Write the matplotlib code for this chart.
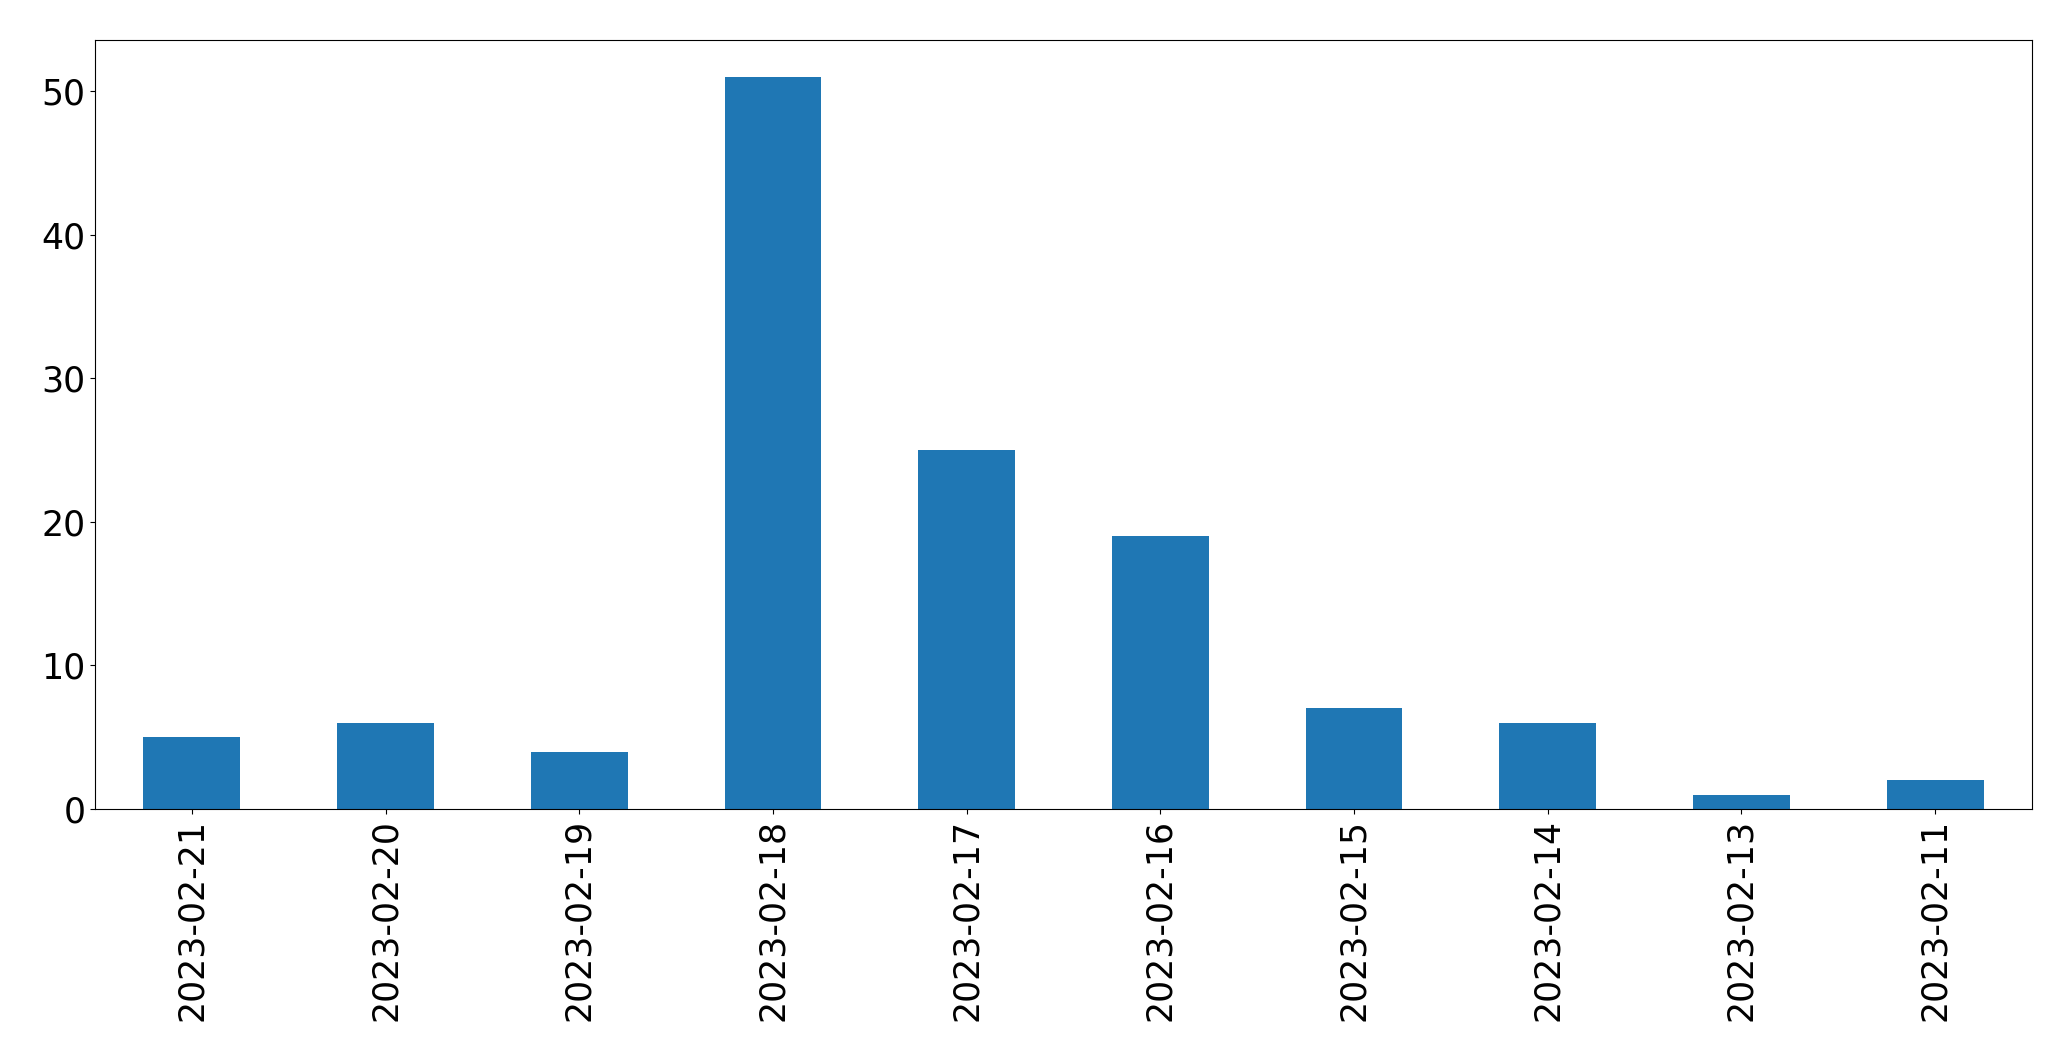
import matplotlib.pyplot as plt
import pandas as pd

# counts per day
dates = ["2023-02-21", "2023-02-20", "2023-02-19", "2023-02-18", "2023-02-17",
         "2023-02-16", "2023-02-15", "2023-02-14", "2023-02-13", "2023-02-11"]
counts = [5, 6, 4, 51, 25, 19, 7, 6, 1, 2]

plt.rcParams['font.size'] = 25

fig = plt.figure(figsize=(20.71, 10.61), dpi=100)
ax = fig.add_axes([95 / 2071, 1 - 809 / 1061, (2032 - 95) / 2071, (809 - 40) / 1061])

s = pd.Series(counts, index=dates)
s.plot(kind="bar", ax=ax, color="#1f77b4")
ax.tick_params(axis="x", labelrotation=90)

fig.savefig("out.png", dpi=100)
